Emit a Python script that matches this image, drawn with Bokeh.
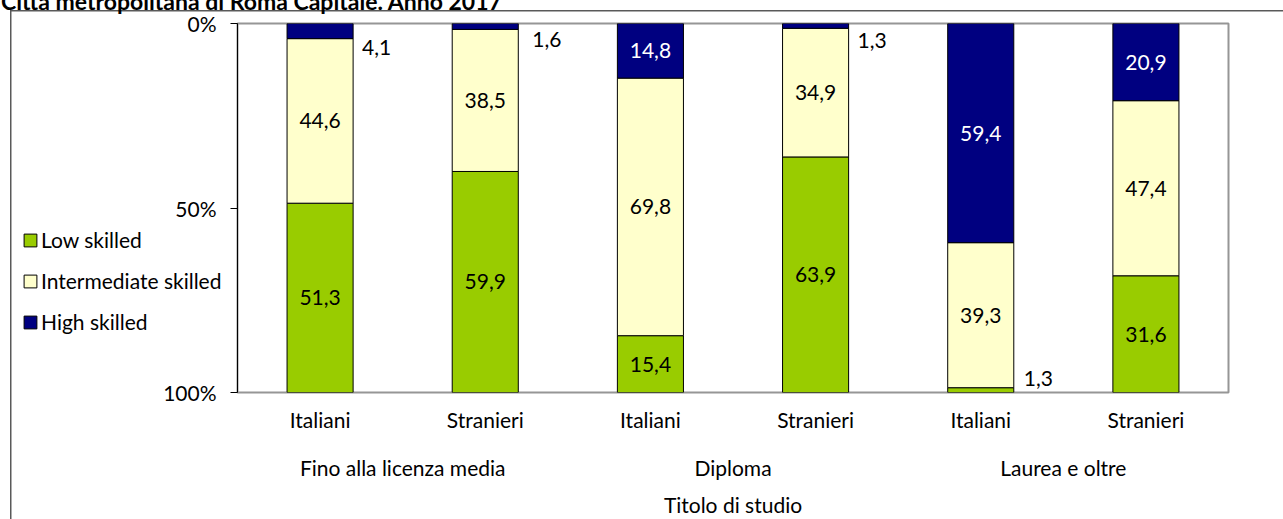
import numpy as np
from bokeh.plotting import figure
from bokeh.layouts import column
from bokeh.models import (Range1d, FixedTicker, LinearAxis, Legend, LegendItem,
                          ColumnDataSource, Div)
from bokeh.core.properties import value
from bokeh.embed import file_html
from bokeh.resources import INLINE

# ---------------- data ----------------
titles = ["Fino alla licenza media", "Diploma", "Laurea e oltre"]
groups = ["Italiani", "Stranieri", "Italiani", "Stranieri", "Italiani", "Stranieri"]
low = [51.3, 59.9, 15.4, 63.9, 1.3, 31.6]
intermediate = [44.6, 38.5, 69.8, 34.9, 39.3, 47.4]
high = [4.1, 1.6, 14.8, 1.3, 59.4, 20.9]
y_ticks = [0, 50, 100]
y_tick_labels = ["0%", "50%", "100%"]
series_names = ["Low skilled", "Intermediate skilled", "High skilled"]
chart_title = "Città metropolitana di Roma Capitale. Anno 2017"
x_title = "Titolo di studio"

# ---------------- styles ----------------
FONT = "Lato"
FS = "21px"
colors = {"Low skilled": "#99CC00", "Intermediate skilled": "#FFFFCC", "High skilled": "#000080"}
label_colors = {"Low skilled": "black", "Intermediate skilled": "black", "High skilled": "white"}
BAR_W = 0.4
outside_offsets = {("High skilled", 0): (9, 16), ("High skilled", 1): (14, 13),
                   ("High skilled", 3): (9, 15), ("Low skilled", 4): (10, -12)}

n = len(groups)
xs = np.arange(n) + 0.5
H = np.array(high); I = np.array(intermediate); L = np.array(low)
tot = H + I + L
Hn, In, Ln = H / tot * 100, I / tot * 100, L / tot * 100
h_top, h_bot = np.zeros(n), Hn
i_top, i_bot = Hn, Hn + In
l_top, l_bot = Hn + In, Hn + In + Ln

p = figure(width=1283, height=519, output_backend="svg", toolbar_location=None,
           x_range=Range1d(0, n), y_range=Range1d(100, 0),
           min_border_left=237, min_border_right=55, min_border_top=23, min_border_bottom=127)
p.xgrid.visible = False
p.ygrid.visible = False
p.outline_line_color = "#969696"
p.outline_line_width = 2
p.background_fill_color = "white"
p.border_fill_alpha = 0
# outer chart box (top and left edges; the rest lies outside the window)
p.styles = {"background": ("linear-gradient(#595959,#595959) 10px 10px / 1273px 1.5px no-repeat, "
                           "linear-gradient(#595959,#595959) 10px 10px / 1.5px 509px no-repeat, white")}

# bars
r_low = p.vbar(x=xs, top=l_top, bottom=l_bot, width=BAR_W, fill_color=colors["Low skilled"],
               line_color="black", line_width=1)
r_int = p.vbar(x=xs, top=i_top, bottom=i_bot, width=BAR_W, fill_color=colors["Intermediate skilled"],
               line_color="black", line_width=1)
r_high = p.vbar(x=xs, top=h_top, bottom=h_bot, width=BAR_W, fill_color=colors["High skilled"],
                line_color="black", line_width=1)

# value labels
seg = {"Low skilled": (low, l_top, l_bot), "Intermediate skilled": (intermediate, i_top, i_bot),
       "High skilled": (high, h_top, h_bot)}
in_d = dict(x=[], y=[], t=[], c=[])
out_d = dict(x=[], y=[], t=[], xo=[], yo=[])
for name, (vals, tops, bots) in seg.items():
    for k in range(n):
        txt = f"{vals[k]:.1f}".replace(".", ",")
        mid = (tops[k] + bots[k]) / 2
        if (name, k) in outside_offsets:
            xo, yo = outside_offsets[(name, k)]
            out_d["x"].append(xs[k] + BAR_W / 2); out_d["y"].append(mid)
            out_d["t"].append(txt); out_d["xo"].append(xo); out_d["yo"].append(yo)
        else:
            in_d["x"].append(xs[k]); in_d["y"].append(mid)
            in_d["t"].append(txt); in_d["c"].append(label_colors[name])
p.text(x="x", y="y", text="t", source=ColumnDataSource(in_d), text_color="c",
       text_align="center", text_baseline="middle", text_font=value(FONT), text_font_size=FS)
p.text(x="x", y="y", text="t", source=ColumnDataSource(out_d), x_offset="xo", y_offset="yo",
       text_color="black", text_align="left", text_baseline="middle",
       text_font=value(FONT), text_font_size=FS)

# y axis
ya = p.yaxis[0]
ya.ticker = FixedTicker(ticks=y_ticks)
ya.major_label_overrides = {t: s for t, s in zip(y_ticks, y_tick_labels)}
ya.axis_line_color = "black"
ya.major_tick_line_color = "black"
ya.major_tick_out = 7
ya.major_tick_in = 0
ya.minor_tick_line_color = None
ya.major_label_standoff = 14
ya.major_label_text_font = FONT
ya.major_label_text_font_size = FS
ya.major_label_text_color = "black"

# x axis: sub-categories
xa = p.xaxis[0]
xa.ticker = FixedTicker(ticks=list(xs))
xa.major_label_overrides = {float(x): g for x, g in zip(xs, groups)}
xa.axis_line_color = None
xa.major_tick_line_color = None
xa.major_tick_out = 0
xa.major_tick_in = 0
xa.minor_tick_line_color = None
xa.major_label_standoff = 14
xa.major_label_text_font = FONT
xa.major_label_text_font_size = FS
xa.major_label_text_color = "black"

# x axis: groups + title
gx = [float(xs[2 * g] + xs[2 * g + 1]) / 2 for g in range(len(titles))]
xa2 = LinearAxis(ticker=FixedTicker(ticks=gx),
                 major_label_overrides={x: t for x, t in zip(gx, titles)},
                 axis_line_color=None, major_tick_line_color=None, minor_tick_line_color=None,
                 major_tick_out=0, major_tick_in=0,
                 major_label_standoff=20, major_label_text_font=FONT,
                 major_label_text_font_size=FS, major_label_text_color="black",
                 axis_label=x_title, axis_label_standoff=9, axis_label_text_font=FONT,
                 axis_label_text_font_size=FS, axis_label_text_font_style="normal",
                 axis_label_text_color="black")
p.add_layout(xa2, "below")

# legend: small transparent figure laid over the left margin
pl = figure(frame_width=215, frame_height=110, output_backend="svg", toolbar_location=None,
            x_range=Range1d(0, 1), y_range=Range1d(0, 1),
            min_border_left=0, min_border_right=0, min_border_top=0, min_border_bottom=0,
            x_axis_location=None, y_axis_location=None)
pl.grid.visible = False
pl.outline_line_color = None
pl.background_fill_alpha = 0
pl.border_fill_alpha = 0
leg_r = []
for name in series_names:
    # one point outside the visible range: only its legend swatch shows
    leg_r.append(pl.vbar(x=[5], top=[5], bottom=[4], width=0.1, fill_color=colors[name],
                         line_color="black", line_width=1))
legend = Legend(items=[LegendItem(label=nm, renderers=[r]) for nm, r in zip(series_names, leg_r)],
                location="top_left", orientation="vertical",
                glyph_width=16, glyph_height=16, label_standoff=3, spacing=16, padding=0,
                margin=0, border_line_color=None, background_fill_alpha=0,
                label_text_font=FONT, label_text_font_size=FS, label_text_color="black")
pl.add_layout(legend, "center")
pl.styles = {"position": "absolute", "left": "22px", "top": "227px"}

# title (partly cut off at the top, as in the source)
title_div = Div(text=(f'<div style="font-family:Lato; font-weight:bold; font-size:23px; '
                      f'line-height:23px; white-space:nowrap; color:black;">{chart_title}</div>'),
                width=700, height=30,
                styles={"position": "absolute", "left": "-4px", "top": "-15px"})

layout = column(p, pl, title_div)
open("out.html", "w").write(file_html(layout, INLINE))
